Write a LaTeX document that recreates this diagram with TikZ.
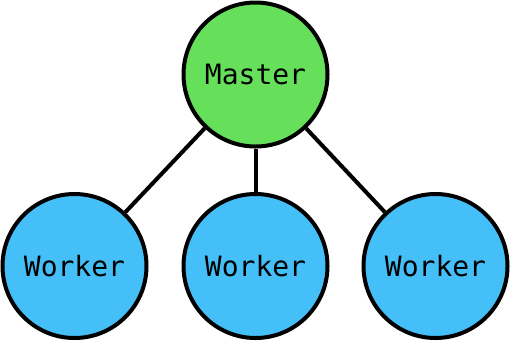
\documentclass[tikz,border=0pt]{standalone}
\usepackage{fontspec}
\newfontfamily\codefont{DejaVu Sans Mono}
\definecolor{mastergreen}{RGB}{102,224,90}
\definecolor{workerblue}{RGB}{68,191,248}
\begin{document}
\begin{tikzpicture}[x=1pt,y=-1pt,
  proc/.style={circle,draw=black,line width=4pt,minimum size=144pt,inner sep=0pt,
    font=\codefont\fontsize{28}{34}\selectfont},
  link/.style={draw=black,line width=4pt}]
  \useasboundingbox (0,0) rectangle (510,341);
  \node[proc,fill=mastergreen] (master) at (255.5,74.5) {Master};
  \node[proc,fill=workerblue] (w1) at (74.5,266) {Worker};
  \node[proc,fill=workerblue] (w2) at (255.5,266) {Worker};
  \node[proc,fill=workerblue] (w3) at (435.5,266) {Worker};
  \draw[link] (master) -- (w1);
  \draw[link] (master) -- (w2);
  \draw[link] (master) -- (w3);
\end{tikzpicture}
\end{document}
